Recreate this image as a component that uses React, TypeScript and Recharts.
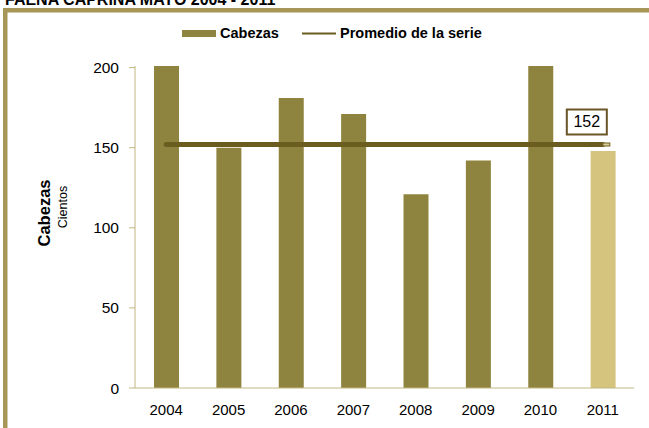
import React from "react";
import { ComposedChart, Bar, Line, XAxis, YAxis, Cell } from "recharts";

const years = ["2004", "2005", "2006", "2007", "2008", "2009", "2010", "2011"];
const cabezas = [201, 150, 181, 171, 121, 142, 201, 148];
const promedio = 152;
const yTicks = [0, 50, 100, 150, 200];

const data = years.map((y, i) => ({ year: y, cabezas: cabezas[i], promedio }));

const BAR = "#8f843f";
const BAR_LAST = "#d4c47e";
const LINE = "#6b5c1f";
const AXIS = "#c2b682";
const FRAME = "#a69756";
const FONT = "'Liberation Sans', Arial, sans-serif";

const EndDot = (props: any) => {
  const { cx, cy, index } = props;
  if (index !== years.length - 1) return <g key={`d${index}`} />;
  return (
    <g key={`d${index}`}>
      <rect x={cx} y={cy - 1.5} width={7} height={3} fill="#d8cf9a" stroke={LINE} strokeWidth={1} />
      <rect x={cx - 36} y={cy - 35} width={40} height={25} fill="#fff" stroke="#6b5526" strokeWidth={2} />
      <text x={cx - 16} y={cy - 22.5} textAnchor="middle" dominantBaseline="central" fontFamily={FONT} fontSize={16} fill="#000">
        {promedio}
      </text>
    </g>
  );
};

const CatTick = (props: any) => {
  const { x, y } = props;
  return <line x1={x} y1={y - 5} x2={x} y2={y + 5} stroke={AXIS} strokeWidth={1} />;
};

export default function App() {
  return (
    <div style={{ position: "absolute", left: 0, top: 0, width: 649, height: 428, background: "#fff", overflow: "hidden" }}>
      <svg width={649} height={428} style={{ position: "absolute", left: 0, top: 0 }}>
        <text x={5} y={5} fontFamily={FONT} fontWeight="bold" fontSize={16} fill="#000">
          FAENA CAPRINA MAYO 2004 - 2011
        </text>
        <rect x={3} y={8} width={700} height={4.5} fill={FRAME} />
        <rect x={3} y={8} width={4.5} height={430} fill={FRAME} />
      </svg>
      <div style={{ position: "absolute", left: 0, top: 0 }}>
        <ComposedChart
          width={649}
          height={428}
          data={data}
          margin={{ top: 66, right: 15, bottom: 0, left: 0 }}
          barCategoryGap={0}
        >
          <XAxis
            dataKey="year"
            height={40}
            axisLine={{ stroke: AXIS }}
            tickLine={false}
            tick={{ fontFamily: FONT, fontSize: 15, fill: "#000" }}
            tickMargin={10}
            interval={0}
          />
          <XAxis
            xAxisId="grid"
            type="number"
            domain={[0, 8]}
            ticks={[0, 1, 2, 3, 4, 5, 6, 7, 8]}
            height={0}
            axisLine={false}
            tickLine={false}
            tick={<CatTick />}
            orientation="bottom"
          />
          <YAxis
            width={135}
            domain={[0, 200]}
            ticks={yTicks}
            axisLine={{ stroke: AXIS }}
            tickLine={{ stroke: AXIS }}
            tickSize={6}
            tickMargin={10}
            tick={{ fontFamily: FONT, fontSize: 15.5, fill: "#000" }}
            interval={0}
          />
          <Bar dataKey="cabezas" barSize={25} isAnimationActive={false}>
            {data.map((d, i) => (
              <Cell key={d.year} fill={i === years.length - 1 ? BAR_LAST : BAR} />
            ))}
          </Bar>
          <Line
            dataKey="promedio"
            stroke={LINE}
            strokeWidth={5}
            strokeLinecap="round"
            dot={EndDot}
            activeDot={false}
            isAnimationActive={false}
          />
        </ComposedChart>
      </div>
      <svg width={649} height={428} style={{ position: "absolute", left: 0, top: 0, pointerEvents: "none" }}>
        <rect x={182} y={30} width={34} height={7} fill={BAR} />
        <text x={220} y={38} fontFamily={FONT} fontWeight="bold" fontSize={14.5} fill="#000">Cabezas</text>
        <line x1={302} y1={33.5} x2={336} y2={33.5} stroke={LINE} strokeWidth={2} />
        <text x={340} y={38} fontFamily={FONT} fontWeight="bold" fontSize={14.5} fill="#000">Promedio de la serie</text>
        <text transform="translate(50,213) rotate(-90)" textAnchor="middle" fontFamily={FONT} fontWeight="bold" fontSize={16.5} fill="#000">Cabezas</text>
        <text transform="translate(67,207) rotate(-90)" textAnchor="middle" fontFamily={FONT} fontSize={12.5} fill="#000">Cientos</text>
      </svg>
    </div>
  );
}
